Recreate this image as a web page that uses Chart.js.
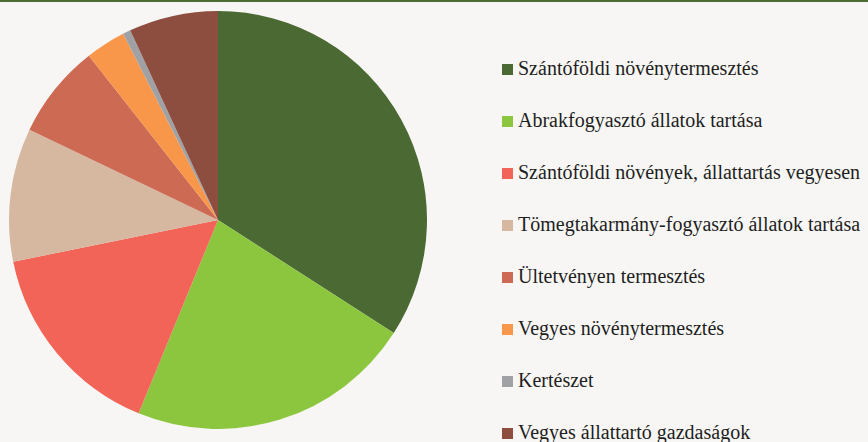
<!DOCTYPE html>
<html>
<head>
<meta charset="utf-8">
<title>Gazdaságok megoszlása</title>
<script src="https://cdn.jsdelivr.net/npm/chart.js@4/dist/chart.umd.min.js"></script>
<style>
    html, body {
        margin: 0;
        padding: 0;
        width: 868px;
        height: 442px;
        overflow: hidden;
        background: #f7f6f4;
    }
    .top-rule {
        position: absolute;
        left: 0;
        top: 0;
        width: 868px;
        height: 2px;
        background: #4e6a35;
    }
    .chart-container {
        position: absolute;
        left: 9px;
        top: 11px;
        width: 418px;
        height: 418px;
    }
    .legend {
        position: absolute;
        left: 502px;
        top: 0;
        color: #1e1e1e;
    }
    .legend-item {
        position: absolute;
        left: 0;
        height: 12px;
        white-space: nowrap;
    }
    .legend-box {
        position: absolute;
        left: 0;
        top: 0;
        width: 11px;
        height: 11px;
    }
    .legend-text {
        position: absolute;
        left: 16px;
        top: -8px;
        line-height: 24px;
    }
</style>
</head>
<body>
<div class="top-rule"></div>
<div class="chart-container">
    <canvas id="pieChart" width="418" height="418"></canvas>
</div>
<div class="legend" id="legend"></div>
<script>
// Gazdaságtípusok és részesedésük (%)
const categories = [
    'Szántóföldi növénytermesztés',
    'Abrakfogyasztó állatok tartása',
    'Szántóföldi növények, állattartás vegyesen',
    'Tömegtakarmány-fogyasztó állatok tartása',
    'Ültetvényen termesztés',
    'Vegyes növénytermesztés',
    'Kertészet',
    'Vegyes állattartó gazdaságok'
];
const shares = [34.1, 22.1, 15.6, 10.3, 7.3, 3.1, 0.6, 6.9];
const colors = ['#4b6a33', '#8cc63f', '#f26457', '#d6b8a1', '#cc6a53', '#f8974a', '#a0a1a5', '#8e4e3f'];

const ctx = document.getElementById('pieChart');
const chart = new Chart(ctx, {
    type: 'pie',
    data: {
        labels: categories,
        datasets: [{
            data: shares,
            backgroundColor: colors,
            borderWidth: 0
        }]
    },
    options: {
        responsive: false,
        animation: false,
        layout: { padding: 0 },
        plugins: {
            legend: { display: false },
            tooltip: { enabled: false }
        }
    }
});

// Jelmagyarázat a diagram adataiból
const legend = document.getElementById('legend');
chart.data.labels.forEach((label, i) => {
    const item = document.createElement('div');
    item.className = 'legend-item';
    item.style.top = (64 + 52 * i) + 'px';
    const box = document.createElement('span');
    box.className = 'legend-box';
    box.style.background = chart.data.datasets[0].backgroundColor[i];
    const text = document.createElement('span');
    text.className = 'legend-text';
    text.style.fontFamily = "'Liberation Serif', serif";
    text.style.fontSize = '20px';
    text.textContent = label;
    item.appendChild(box);
    item.appendChild(text);
    legend.appendChild(item);
});
</script>
</body>
</html>
